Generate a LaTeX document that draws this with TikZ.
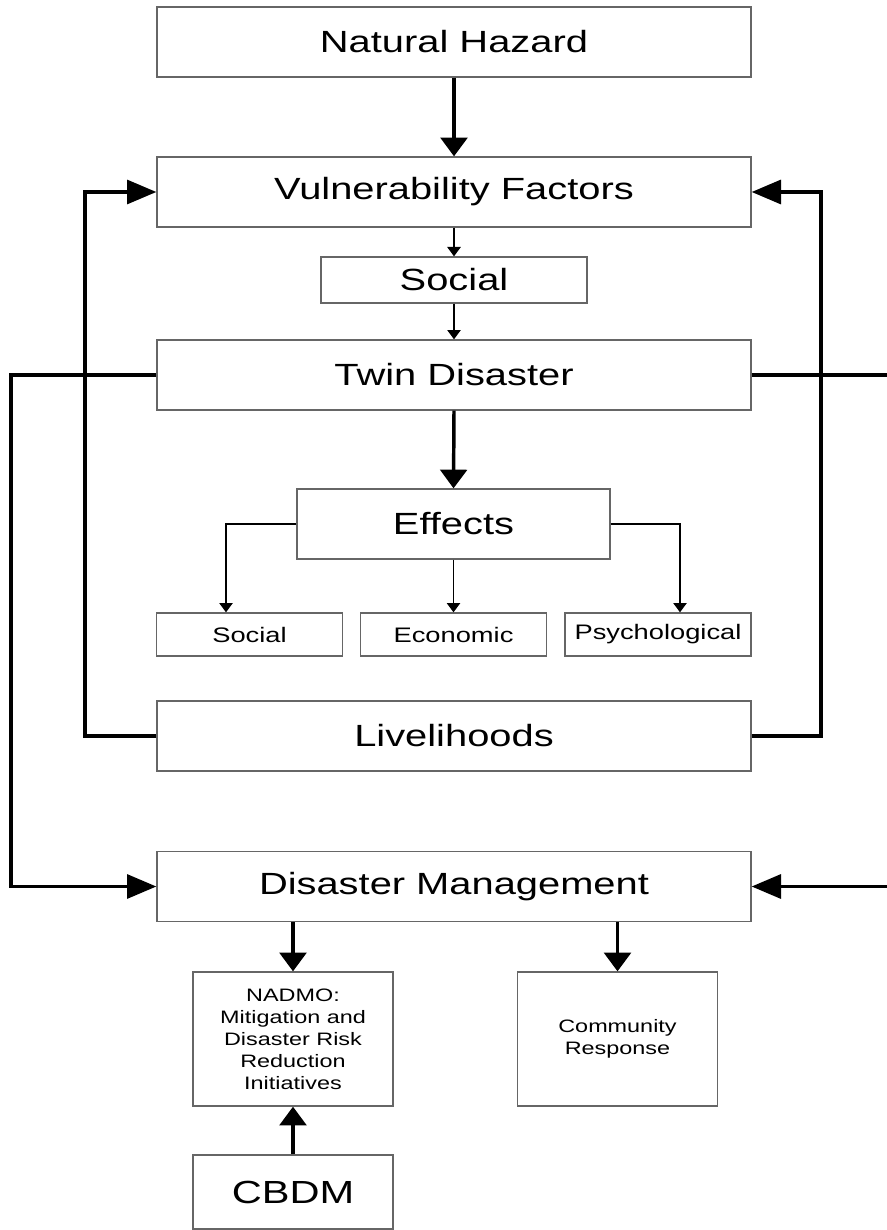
\documentclass[tikz,border=0pt]{standalone}
\usepackage{fontspec}
\setmainfont{Liberation Sans}[FakeStretch=1.3]
\usetikzlibrary{arrows.meta}
\begin{document}
\begin{tikzpicture}[x=0.75pt,y=-0.75pt,
  box/.style={draw=black!60, line width=1pt, inner sep=0pt, align=center, text=black},
  bigbox/.style={box, minimum width=445.5pt, minimum height=52.5pt, font=\fontsize{23}{27}\selectfont},
  smallbox/.style={box, minimum width=139.5pt, minimum height=32.25pt, font=\fontsize{15.75}{18}\selectfont},
  tallbox/.style={box, minimum width=150pt, minimum height=100.5pt, font=\fontsize{13.5}{16.5}\selectfont},
  thickv/.style={line width=2.6pt, -{Triangle[length=14pt,width=20pt]}},
  thickh/.style={line width=2.4pt, -{Triangle[length=22pt,width=18pt]}},
  thinarr/.style={line width=1.2pt, -{Triangle[length=7pt,width=10pt]}}]
\useasboundingbox (0,0) rectangle (887,1230);
\fill[white] (0,0) rectangle (887,1230);

\node[bigbox] (nh) at (454,42) {Natural Hazard};
\node[bigbox] (vf) at (454,192) {Vulnerability Factors};
\node[box, minimum width=199.5pt, minimum height=34.5pt, font=\fontsize{23}{27}\selectfont] (soc) at (454,280) {Social};
\node[bigbox] (td) at (454,375) {Twin Disaster};
\node[box, minimum width=234.75pt, minimum height=52.5pt, font=\fontsize{23}{27}\selectfont] (eff) at (453.5,524) {Effects};
\node[smallbox] (es) at (249.5,634.5) {Social};
\node[smallbox] (ee) at (453.5,634.5) {Economic};
\node[smallbox] (ep) at (658,634.5) {Psychological};
\node[bigbox] (lv) at (454,736) {Livelihoods};
\node[bigbox] (dm) at (454,886.5) {Disaster Management};
\node[tallbox] (nad) at (293,1039) {NADMO:\\Mitigation and\\Disaster Risk\\Reduction\\Initiatives};
\node[tallbox] (cr) at (617.5,1039) {Community\\Response};
\node[box, minimum width=150pt, minimum height=55.5pt, font=\fontsize{24}{28}\selectfont] (cb) at (293,1192) {CBDM};

\coordinate (bl) at (226,0);
\coordinate (br) at (680,0);
\coordinate (L1) at (85,0);
\coordinate (R1) at (821,0);
\coordinate (L2) at (11,0);
\coordinate (R2) at (905,0);

\draw[thickv] (nh.south) -- (vf.north);
\draw[thinarr] (vf.south) -- (soc.north);
\draw[thinarr] (soc.south) -- (td.north);
\draw[thickv] (td.south) -- (eff.north);
\draw[thinarr] (eff.west) -- (eff.west -| bl) -- (es.north -| bl);
\draw[thinarr] (eff.east) -- (eff.east -| br) -- (ep.north -| br);
\draw[thinarr] (eff.south) -- (ee.north);
\draw[thickh] (lv.west) -- (lv.west -| L1) -- (vf.west -| L1) -- (vf.west);
\draw[thickh] (lv.east) -- (lv.east -| R1) -- (vf.east -| R1) -- (vf.east);
\draw[thickh] (td.west) -- (td.west -| L2) -- (dm.west -| L2) -- (dm.west);
\draw[thickh] (td.east) -- (td.east -| R2) -- (dm.east -| R2) -- (dm.east);
\draw[thickv] (dm.south -| nad) -- (nad.north);
\draw[thickv] (dm.south -| cr) -- (cr.north);
\draw[thickv] (cb.north) -- (nad.south);
\end{tikzpicture}
\end{document}
